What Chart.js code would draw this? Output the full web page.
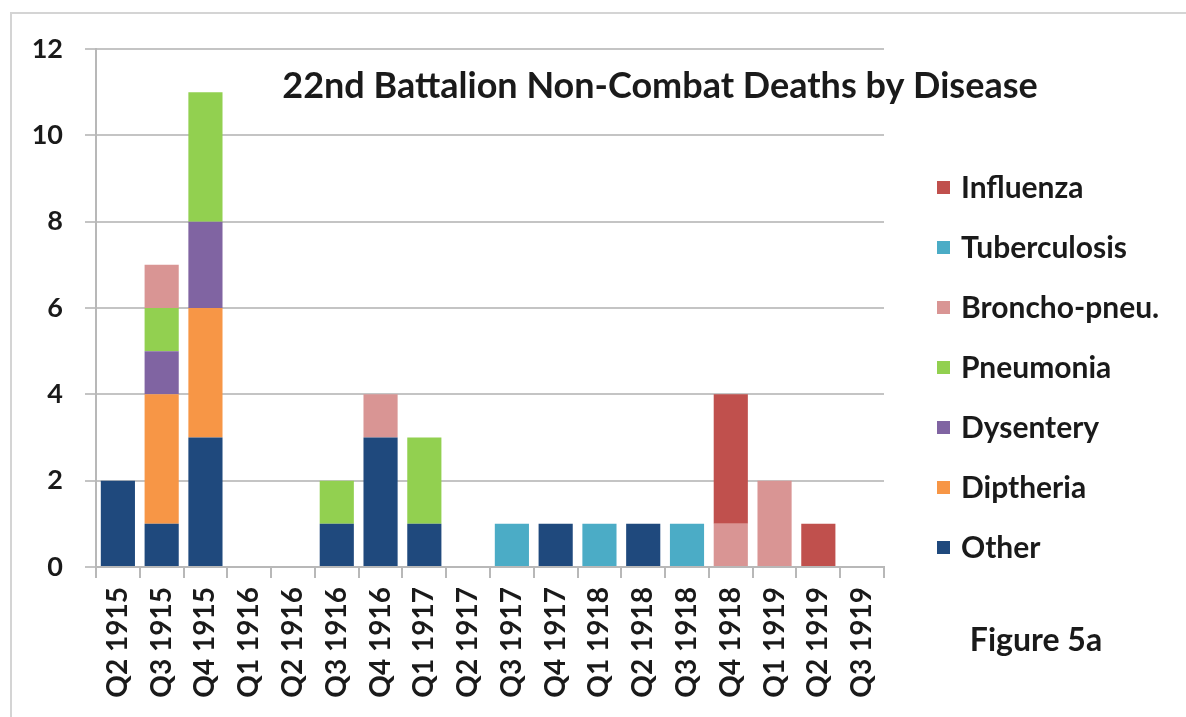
<!DOCTYPE html>
<html>
<head>
<meta charset="utf-8">
<script src="https://cdn.jsdelivr.net/npm/chart.js@4.4.1/dist/chart.umd.min.js"></script>
<style>
  html, body { margin: 0; padding: 0; background: #fff; }
  #wrap { position: relative; width: 1186px; height: 717px; }
  #frame { position: absolute; left: 10px; top: 12px; right: -4px; bottom: -4px; border-top: 2px solid #d4d4d4; border-left: 2px solid #d4d4d4; }
  canvas { position: absolute; left: 0; top: 0; }
</style>
</head>
<body>
<div id="wrap">
  <div id="frame"></div>
  <canvas id="chart" width="1186" height="717"></canvas>
</div>
<script>
// Quarters on the x axis
const quarters = ['Q2 1915', 'Q3 1915', 'Q4 1915', 'Q1 1916', 'Q2 1916', 'Q3 1916', 'Q4 1916',
  'Q1 1917', 'Q2 1917', 'Q3 1917', 'Q4 1917', 'Q1 1918', 'Q2 1918', 'Q3 1918', 'Q4 1918',
  'Q1 1919', 'Q2 1919', 'Q3 1919'];

// Deaths per quarter, one array per disease (stack order bottom to top)
const other        = [2, 1, 3, 0, 0, 1, 3, 1, 0, 0, 1, 0, 1, 0, 0, 0, 0, 0];
const diptheria    = [0, 3, 3, 0, 0, 0, 0, 0, 0, 0, 0, 0, 0, 0, 0, 0, 0, 0];
const dysentery    = [0, 1, 2, 0, 0, 0, 0, 0, 0, 0, 0, 0, 0, 0, 0, 0, 0, 0];
const pneumonia    = [0, 1, 3, 0, 0, 1, 0, 2, 0, 0, 0, 0, 0, 0, 0, 0, 0, 0];
const bronchoPneu  = [0, 1, 0, 0, 0, 0, 1, 0, 0, 0, 0, 0, 0, 0, 1, 2, 0, 0];
const tuberculosis = [0, 0, 0, 0, 0, 0, 0, 0, 0, 1, 0, 1, 0, 1, 0, 0, 0, 0];
const influenza    = [0, 0, 0, 0, 0, 0, 0, 0, 0, 0, 0, 0, 0, 0, 3, 0, 1, 0];

const yTicks = [0, 2, 4, 6, 8, 10, 12];

const FONT = 'Lato, "DejaVu Sans", sans-serif';

// Draw the title, the legend and the figure caption
const annotations = {
  id: 'annotations',
  afterDraw(chart) {
    const ctx = chart.ctx;
    ctx.save();
    ctx.fillStyle = '#1a1a1a';
    ctx.textBaseline = 'middle';

    ctx.font = 'bold 36px ' + FONT;
    ctx.textAlign = 'center';
    ctx.fillText('22nd Battalion Non-Combat Deaths by Disease', 660, 86);

    // legend, top item is the last dataset
    ctx.font = 'bold 30px ' + FONT;
    ctx.textAlign = 'left';
    const sets = chart.data.datasets.slice().reverse();
    sets.forEach((ds, i) => {
      const y = 187 + i * 60;
      ctx.fillStyle = ds.backgroundColor;
      ctx.fillRect(937, y - 6, 13, 13);
      ctx.fillStyle = '#1a1a1a';
      ctx.fillText(ds.label, 961, y + 1);
    });

    ctx.font = 'bold 32px ' + FONT;
    ctx.textAlign = 'center';
    ctx.fillText('Figure 5a', 1036, 641);
    ctx.restore();
  }
};

function makeSet(label, data, color) {
  return { label: label, data: data, backgroundColor: color, borderWidth: 0,
           barPercentage: 0.78, categoryPercentage: 1.0 };
}

const ctx = document.getElementById('chart').getContext('2d');
new Chart(ctx, {
  type: 'bar',
  data: {
    labels: quarters,
    datasets: [
      makeSet('Other', other, '#1F497D'),
      makeSet('Diptheria', diptheria, '#F79646'),
      makeSet('Dysentery', dysentery, '#8064A2'),
      makeSet('Pneumonia', pneumonia, '#92D050'),
      makeSet('Broncho-pneu.', bronchoPneu, '#D99594'),
      makeSet('Tuberculosis', tuberculosis, '#4BACC6'),
      makeSet('Influenza', influenza, '#C0504D')
    ]
  },
  options: {
    responsive: false,
    animation: false,
    layout: { padding: { top: 49, right: 302, left: 0, bottom: 0 } },
    plugins: {
      legend: { display: false },
      title: { display: false },
      tooltip: { enabled: false }
    },
    scales: {
      x: {
        stacked: true,
        afterFit(scale) { scale.height = 150; },
        grid: { drawOnChartArea: false, drawTicks: true, tickLength: 11, color: '#b8b8b8', lineWidth: 2 },
        border: { color: '#b8b8b8', width: 2 },
        ticks: {
          minRotation: 90, maxRotation: 90, padding: 9, autoSkip: false,
          color: '#1a1a1a', font: { family: FONT, size: 28, weight: 'bold' }
        }
      },
      y: {
        stacked: true,
        min: 0, max: 12,
        afterFit(scale) { scale.width = 96; },
        afterBuildTicks(scale) { scale.ticks = yTicks.map(v => ({ value: v })); },
        grid: { color: '#c4c4c4', lineWidth: 2, tickLength: 11 },
        border: { color: '#b8b8b8', width: 2 },
        ticks: {
          padding: 22, color: '#1a1a1a',
          font: { family: FONT, size: 27, weight: 'bold' }
        }
      }
    }
  },
  plugins: [annotations]
});
</script>
</body>
</html>
